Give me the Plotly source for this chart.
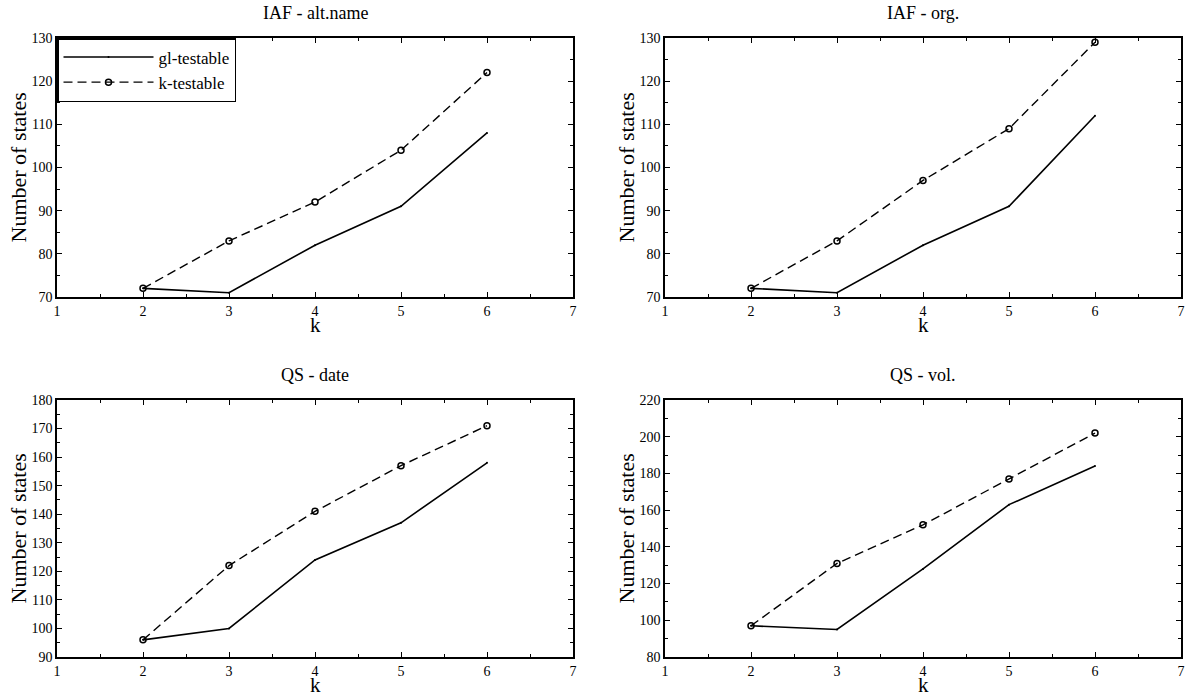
import plotly.graph_objects as go

k_values = [2, 3, 4, 5, 6]

titles = ["IAF - alt.name", "IAF - org.", "QS - date", "QS - vol."]
gl_alt = [72, 71, 82, 91, 108]
kt_alt = [72, 83, 92, 104, 122]
gl_org = [72, 71, 82, 91, 112]
kt_org = [72, 83, 97, 109, 129]
gl_date = [96, 100, 124, 137, 158]
kt_date = [96, 122, 141, 157, 171]
gl_vol = [97, 95, 128, 163, 184]
kt_vol = [97, 131, 152, 177, 202]

y_ranges = [(70, 130, 10), (70, 130, 10), (90, 180, 10), (80, 220, 20)]

FONT = "Liberation Serif, Times New Roman, serif"
W, H = 1186, 698

panels = [
    (gl_alt, kt_alt, (57, 573), (38, 297)),
    (gl_org, kt_org, (665, 1181), (38, 297)),
    (gl_date, kt_date, (57, 573), (400, 657)),
    (gl_vol, kt_vol, (665, 1181), (400, 657)),
]

fig = go.Figure()
annotations = []
for i, (gl, kt, (x0, x1), (y0, y1)) in enumerate(panels):
    n = i + 1
    xa = "x" if n == 1 else f"x{n}"
    ya = "y" if n == 1 else f"y{n}"
    fig.add_trace(go.Scatter(
        x=k_values, y=gl, xaxis=xa, yaxis=ya, mode="lines+markers",
        name="gl-testable", showlegend=(n == 1), legendgroup="gl",
        line=dict(color="black", width=1.6),
        marker=dict(symbol="circle", size=2, color="black"),
    ))
    fig.add_trace(go.Scatter(
        x=k_values, y=kt, xaxis=xa, yaxis=ya, mode="lines+markers",
        name="k-testable", showlegend=(n == 1), legendgroup="kt",
        line=dict(color="black", width=1.4, dash="9px,5px"),
        marker=dict(symbol="circle-open", size=6, color="black", line=dict(width=1.5)),
    ))
    dx = [x0 / W, x1 / W]
    dy = [1 - y1 / H, 1 - y0 / H]
    lo, hi, step = y_ranges[i]
    axcommon = dict(
        showline=True, linecolor="black", linewidth=1.5, mirror="ticks",
        ticks="inside", ticklen=5, tickwidth=1, tickcolor="black",
        showgrid=False, zeroline=False, automargin=False,
        tickfont=dict(family=FONT, size=14, color="black"),
    )
    fig.update_layout(**{
        ("xaxis" if n == 1 else f"xaxis{n}"): dict(
            domain=dx, range=[1, 7], tickmode="linear", tick0=1, dtick=1,
            anchor=ya, ticklabelstandoff=0,
            minor=dict(ticks="inside", ticklen=3, tickcolor="black", dtick=0.5, tick0=1, showgrid=False),
            **axcommon),
        ("yaxis" if n == 1 else f"yaxis{n}"): dict(
            domain=dy, range=[lo, hi], tickmode="linear", tick0=lo, dtick=step,
            anchor=xa, ticklabelstandoff=0,
            minor=dict(ticks="inside", ticklen=3, tickcolor="black", dtick=step / 2, tick0=lo, showgrid=False),
            **axcommon),
    })
    cx = (x0 + x1) / 2 / W
    annotations.append(dict(text=titles[i], x=cx, y=1 - (y0 - 25) / H, xref="paper", yref="paper",
                            showarrow=False, font=dict(family=FONT, size=18, color="black"),
                            xanchor="center", yanchor="middle"))
    annotations.append(dict(text="k", x=cx, y=1 - (y1 + 28) / H, xref="paper", yref="paper",
                            showarrow=False, font=dict(family=FONT, size=21, color="black"),
                            xanchor="center", yanchor="middle"))
    annotations.append(dict(text="Number of states", x=(x0 - 39) / W, y=1 - (y0 + y1) / 2 / H,
                            xref="paper", yref="paper", textangle=-90,
                            showarrow=False, font=dict(family=FONT, size=22, color="black"),
                            xanchor="center", yanchor="middle"))

fig.update_layout(
    width=W, height=H, margin=dict(l=0, r=0, t=0, b=0, autoexpand=False),
    paper_bgcolor="white", plot_bgcolor="white",
    annotations=annotations,
    legend=dict(x=57 / W, y=1 - 38 / H, xanchor="left", yanchor="top",
                bordercolor="black", borderwidth=1.5, bgcolor="white",
                font=dict(family=FONT, size=17, color="black"),
                itemwidth=90, tracegroupgap=0),
    showlegend=True,
)

fig.write_html("out.html", config={"displayModeBar": False},
               post_script="document.body.style.margin='0';document.body.style.overflow='hidden';")
